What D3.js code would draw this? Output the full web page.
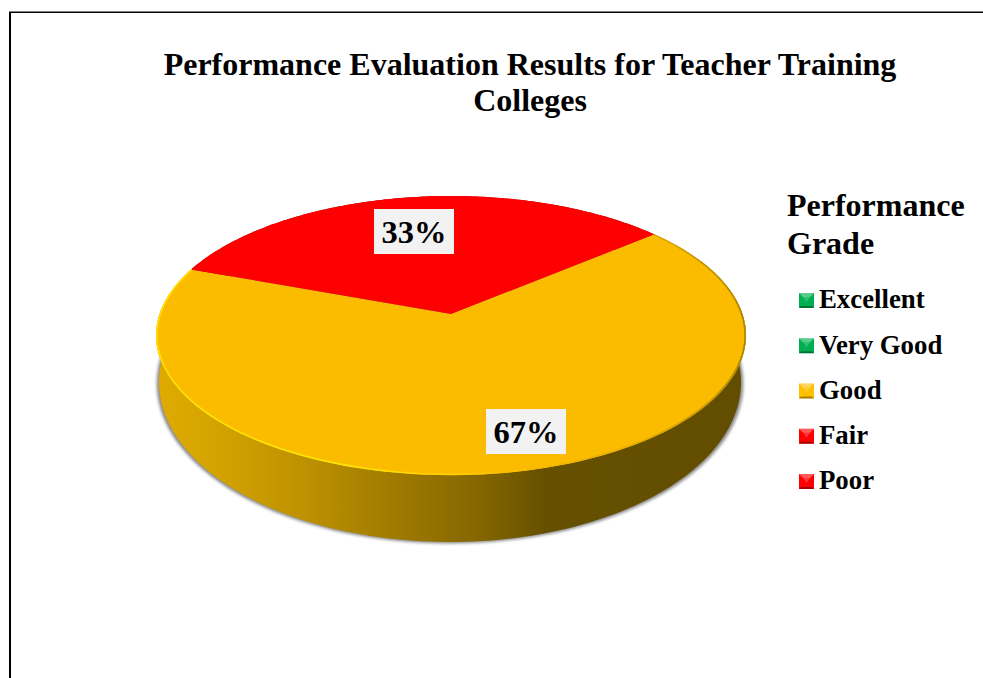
<!DOCTYPE html>
<html><head><meta charset="utf-8">
<script src="https://cdn.jsdelivr.net/npm/d3@7"></script>
<style>html,body{margin:0;padding:0;background:#fff;overflow:hidden}svg{display:block}
text{font-family:"Liberation Serif",serif;font-weight:bold;fill:#000}</style></head>
<body><svg id="c" width="983" height="678"></svg>
<script>
const titleLines = ["Performance Evaluation Results for Teacher Training", "Colleges"];
const legendTitleLines = ["Performance", "Grade"];
const grades = ["Excellent", "Very Good", "Good", "Fair", "Poor"];
const shares = [0, 0, 66.7, 33.3, 0];
const gradeColors = ["#00B050", "#00B050", "#FFC000", "#FF0000", "#FF0000"];
const svg = d3.select("#c"), defs = svg.append("defs");
const cx = 451, cy = 335.5, rx = 295, ry = 139.5, apexY = 314;
const baseCx = 450, baseCy = 382, baseRx = 291, baseRy = 160;
const a = (apexY - cy) / ry, nr = Math.sqrt(1 - a * a);
const xS = d3.scaleLinear().domain([-1, 1]).range([cx - rx, cx + rx]);
const yS = d3.scaleLinear().domain([-1, 1]).range([cy - ry, cy + ry]);
const xB = d3.scaleLinear().domain([-1, 1]).range([baseCx - baseRx, baseCx + baseRx]);
const yB = d3.scaleLinear().domain([-1, 1]).range([baseCy - baseRy, baseCy + baseRy]);
const pie = d3.pie().value(d => d).sort(null).startAngle(50 * Math.PI / 180).endAngle(410 * Math.PI / 180);
const arcs = pie(shares);
// perspective projection of the unit disc; z = 0 top face, z = 1 base outline
function proj(t, rad, z) {
  const u = Math.sin(t) * rad, v = -Math.cos(t) * rad, w = 1 + a * v;
  const X = nr * u / w, Y = (v + a) / w;
  return z ? [xB(X), yB(Y)] : [xS(X), yS(Y)];
}
const line = d3.line();
const sweep = (s, e, z) => d3.range(0, 161).map(i => proj(s + (e - s) * i / 160, 1, z));
// gradients
const side = defs.append("linearGradient").attr("id", "side").attr("gradientUnits", "userSpaceOnUse")
  .attr("x1", 158).attr("x2", 745).attr("y1", 0).attr("y2", 0);
[[0, "#dfab00"], [.1, "#d4a300"], [.25, "#bd9100"], [.4, "#a07b00"], [.55, "#846600"], [.66, "#665000"], [1, "#624d00"]]
  .forEach(([o, c]) => side.append("stop").attr("offset", o).attr("stop-color", c));
const rim = defs.append("linearGradient").attr("id", "rim").attr("gradientUnits", "userSpaceOnUse")
  .attr("x1", 156).attr("x2", 745).attr("y1", 0).attr("y2", 0);
[[0, "#ffe000"], [.3, "#ffe800"], [.5, "#ffcf00"], [.62, "#fbbc00"], [.85, "#e0a800"], [1, "#a88600"]]
  .forEach(([o, c]) => rim.append("stop").attr("offset", o).attr("stop-color", c));
defs.append("filter").attr("id", "blur").attr("x", "-10%").attr("y", "-10%").attr("width", "120%").attr("height", "120%")
  .append("feGaussianBlur").attr("stdDeviation", 1.6);
defs.append("filter").attr("id", "soft").append("feGaussianBlur").attr("stdDeviation", 0.6);
// frame
svg.append("path").attr("d", "M10,678V12").attr("fill", "none").attr("stroke", "#000").attr("stroke-width", 2);
svg.append("path").attr("d", "M9,12.2H983").attr("fill", "none").attr("stroke", "#000").attr("stroke-width", 1.6);
// title
svg.append("g").selectAll("text").data(titleLines).join("text")
  .attr("x", 530).attr("y", (d, i) => 75 + i * 36).attr("text-anchor", "middle").attr("font-size", 32).text(d => d);
const vis = arcs.filter(d => d.endAngle > d.startAngle);
// shadow
svg.append("path").attr("fill", "#8b8b8b").attr("filter", "url(#blur)")
  .attr("transform", "translate(0,1.5)")
  .attr("d", line(sweep(0, 2 * Math.PI, 1).map(([x, y]) => [baseCx + (x - baseCx) * 1.008, y])) + "Z");
// side walls
svg.append("g").selectAll("path").data(vis).join("path")
  .attr("fill", d => d.index === 2 ? "url(#side)" : "#a00000")
  .attr("d", d => line([...sweep(d.startAngle, d.endAngle, 0), ...sweep(d.endAngle, d.startAngle, 1)]) + "Z");
// top faces
svg.append("g").selectAll("path").data(vis).join("path")
  .attr("fill", d => d.index === 2 ? "#FBBC00" : gradeColors[d.index])
  .attr("d", d => line([proj(0, 0, 0), ...sweep(d.startAngle, d.endAngle, 0)]) + "Z");
// bevelled rim of the gold slice
svg.append("g").selectAll("path").data(vis.filter(d => d.index === 2)).join("path")
  .attr("fill", "none").attr("stroke", "url(#rim)").attr("stroke-width", 1.6).attr("filter", "url(#soft)")
  .attr("d", d => line(d3.range(0, 161).map(i => proj(d.startAngle + (d.endAngle - d.startAngle) * i / 160, 0.997, 0))));
// data labels
const labelX = [0, 0, 526, 414, 0], labelY = [0, 0, 431.5, 231.5, 0];
const lg = svg.append("g").selectAll("g").data(vis).join("g")
  .attr("transform", d => `translate(${labelX[d.index]},${labelY[d.index]})`);
lg.append("rect").attr("x", -40).attr("y", -22.5).attr("width", 80).attr("height", 45).attr("fill", "#F2F2F2");
lg.append("text").attr("text-anchor", "middle").attr("y", 11.5).attr("font-size", 32.5).text(d => d3.format(".0f")(d.data) + "%");
// legend
svg.append("g").selectAll("text").data(legendTitleLines).join("text")
  .attr("x", 787).attr("y", (d, i) => 216 + i * 38).attr("font-size", 32).text(d => d);
const rowY = d3.scalePoint().domain(grades).range([300.5, 481.5]);
const row = svg.append("g").selectAll("g").data(grades).join("g")
  .attr("transform", d => `translate(799,${rowY(d) - 7.5})`);
row.append("rect").attr("width", 15).attr("height", 15).attr("fill", (d, i) => gradeColors[i]);
row.append("path").attr("d", "M0,0H15L11,4H4Z").attr("fill", "#fff").attr("opacity", .35);
row.append("path").attr("d", "M0,15H15L13,13H2Z").attr("fill", "#000").attr("opacity", .35);
row.append("path").attr("d", "M4,4L7.5,9L11,4Z").attr("fill", "#fff").attr("opacity", .2);
row.append("text").attr("x", 20).attr("y", 8).attr("font-size", 26.8).attr("dy", "0.27em").text(d => d);
</script></body></html>
